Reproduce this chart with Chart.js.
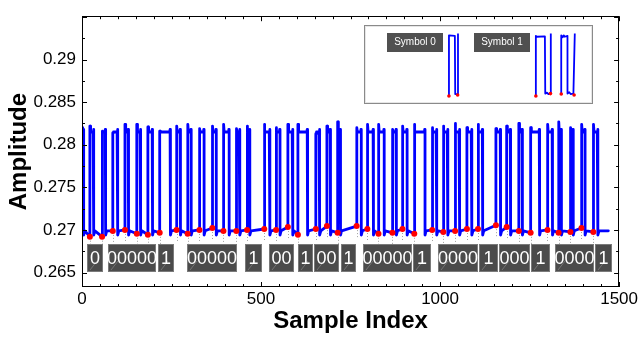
<!DOCTYPE html>
<html><head><meta charset="utf-8">
<script src="https://cdn.jsdelivr.net/npm/chart.js@4.4.0/dist/chart.umd.min.js"></script>
<style>
html,body{margin:0;padding:0;background:#fff;}
#wrap{position:relative;width:640px;height:339px;overflow:hidden;}
#main{position:absolute;left:0;top:0;}
#inset{position:absolute;left:364px;top:25px;width:227px;height:77px;border:1px solid #8a8a8a;background:#fff;box-shadow:inset 0 0 0 1px #e6e6e6;}
#insetCanvas{position:absolute;left:0;top:0;}
</style></head>
<body>
<div id="wrap">
<canvas id="main" width="640" height="339"></canvas>
<div id="inset"><canvas id="insetCanvas" width="227" height="77"></canvas></div>
</div>
<script>
// ---------- data ----------
const xTickLabels = [0, 500, 1000, 1500];
const yTickLabels = [0.265, 0.27, 0.275, 0.28, 0.285, 0.29];

// rising edges (sample index) of pulses 2..42 (pulse 1 starts high at 0)
const riseIdx = [22, 56, 86, 120, 153, 184, 217, 264, 295, 328, 364, 395, 431, 461, 509, 542, 575, 603, 653, 684, 714, 767, 797, 828, 867, 895, 928, 978, 1009, 1042, 1075, 1106, 1156, 1186, 1220, 1253, 1300, 1331, 1364, 1395, 1428];
// falling edges of pulses 1..42
const fallIdx = [5, 33, 66, 100, 130, 164, 197, 247, 275, 305, 341, 375, 411, 441, 469, 525, 553, 589, 630, 664, 694, 722, 780, 814, 844, 878, 908, 958, 991, 1022, 1055, 1089, 1119, 1169, 1197, 1230, 1278, 1314, 1339, 1372, 1405, 1441];
// overshoot amplitude at the start of each pulse
const peakAmp = [0.2820, 0.2822, 0.2816, 0.2814, 0.2824, 0.2824, 0.2821, 0.2816, 0.2822, 0.2824, 0.2819, 0.2822, 0.2824, 0.2819, 0.2822, 0.2824, 0.2820, 0.2824, 0.2824, 0.2813, 0.2822, 0.2827, 0.2820, 0.2824, 0.2824, 0.2818, 0.2822, 0.2824, 0.2820, 0.2822, 0.2825, 0.2820, 0.2824, 0.2819, 0.2822, 0.2825, 0.2820, 0.2824, 0.2827, 0.2820, 0.2824, 0.2824];
// red markers at each rising edge
const dotAmp = [0.26921, 0.26921, 0.26989, 0.2700, 0.26955, 0.26944, 0.26966, 0.2700, 0.26955, 0.2700, 0.27023, 0.26989, 0.26989, 0.2700, 0.27011, 0.2700, 0.27034, 0.26944, 0.27011, 0.27045, 0.26966, 0.27045, 0.27011, 0.26955, 0.26966, 0.27011, 0.26955, 0.2700, 0.26977, 0.26989, 0.27011, 0.27011, 0.27056, 0.27034, 0.26989, 0.26966, 0.2700, 0.26966, 0.26977, 0.27023, 0.26977];
const highLevel = 0.2815;
const lowLevel = 0.2699;
const dipLevel = 0.2694;
const traceEnd = 1470;

// decoded symbol labels
const boxLabels = ["0", "00000", "1", "00000", "1", "00", "1", "00", "1", "00000", "1", "0000", "1", "000", "1", "0000", "1"];
const boxStart  = [14, 72, 211, 292, 456, 522, 603, 647, 722, 786, 925, 994, 1108, 1164, 1253, 1322, 1433];
const boxEnd    = [58, 208, 258, 433, 503, 592, 644, 719, 764, 922, 975, 1106, 1161, 1250, 1306, 1431, 1481];

// inset traces
const sym0X = [230, 230, 247, 248, 255, 256];
const sym0Y = [0.2693, 0.2822, 0.2821, 0.2696, 0.2696, 0.2826];
const sym1aX = [480, 480, 483, 506, 507, 512, 516, 522, 523];
const sym1aY = [0.2693, 0.2821, 0.2819, 0.2820, 0.2697, 0.2699, 0.2696, 0.2698, 0.2826];
const sym1bX = [553, 553, 557, 560, 563, 571, 571, 576, 580, 588, 592];
const sym1bY = [0.2694, 0.2822, 0.2818, 0.2822, 0.2819, 0.2821, 0.2697, 0.2700, 0.2696, 0.2697, 0.2826];
const insetDotX = [230, 255, 480, 522, 553, 590];
const insetDotY = [0.2692, 0.2694, 0.2692, 0.2697, 0.2696, 0.2694];
const insetLabels = ["Symbol 0", "Symbol 1"];
const insetLabelStart = [53, 303];
const insetLabelEnd = [214, 464];

// ---------- build ----------
const FONT = "'Liberation Sans', Arial, Helvetica, sans-serif";

const tracePts = [];
for (let k = 0; k < fallIdx.length; k++) {
  if (k === 0) {
    tracePts.push({x: 0, y: peakAmp[0]});
    tracePts.push({x: 2, y: highLevel});
  } else {
    const r = riseIdx[k - 1];
    tracePts.push({x: r, y: dotAmp[k - 1]});
    tracePts.push({x: r, y: peakAmp[k]});
    tracePts.push({x: r + 1, y: peakAmp[k]});
    tracePts.push({x: r + 2, y: highLevel});
  }
  const f = fallIdx[k];
  tracePts.push({x: f - 2, y: highLevel});
  tracePts.push({x: f - 1, y: highLevel + 0.0003});
  tracePts.push({x: f, y: highLevel + 0.0003});
  tracePts.push({x: f, y: dipLevel});
  tracePts.push({x: f + 3, y: lowLevel});
}
tracePts.push({x: traceEnd, y: lowLevel});

const dotPts = riseIdx.map((x, i) => ({x: x, y: dotAmp[i]}));

const frameTicks = {
  id: 'frameTicks',
  afterDraw(chart) {
    const {ctx, chartArea: a, scales: {x, y}} = chart;
    ctx.save();
    ctx.strokeStyle = '#000';
    ctx.lineWidth = 1;
    ctx.beginPath();
    for (let v = 0; v <= 1500 + 1e-9; v += 50) {
      const px = Math.round(x.getPixelForValue(v)) + 0.5;
      const len = (v % 500 === 0) ? 5 : 3;
      ctx.moveTo(px, a.bottom); ctx.lineTo(px, a.bottom - len);
      ctx.moveTo(px, a.top); ctx.lineTo(px, a.top + len);
    }
    const st = 0.0025;
    for (let i = Math.ceil(y.min / st - 1e-9); i * st <= y.max + 1e-12; i++) {
      const v = i * st;
      const py = Math.round(y.getPixelForValue(v)) + 0.5;
      const major = Math.abs(v / 0.005 - Math.round(v / 0.005)) < 1e-6;
      const len = major ? 5 : 3;
      ctx.moveTo(a.left, py); ctx.lineTo(a.left + len, py);
      ctx.moveTo(a.right, py); ctx.lineTo(a.right - len, py);
    }
    ctx.stroke();
    ctx.strokeRect(Math.round(a.left) + 0.5, Math.round(a.top) + 0.5, Math.round(a.right - a.left) - 1, Math.round(a.bottom - a.top) - 1);
    ctx.restore();
  }
};

const symbolBoxes = {
  id: 'symbolBoxes',
  afterDatasetsDraw(chart, args, opts) {
    const {ctx, scales: {x, y}} = chart;
    ctx.save();
    ctx.strokeStyle = '#a0a0a0';
    ctx.lineWidth = 1;
    ctx.setLineDash([1, 2]);
    ctx.beginPath();
    dotPts.forEach(p => {
      const px = Math.round(x.getPixelForValue(p.x)) + 0.5;
      const py = y.getPixelForValue(p.y);
      ctx.moveTo(px, py + 4); ctx.lineTo(px, py + 13);
    });
    ctx.stroke();
    ctx.setLineDash([]);
    const yT = Math.round(y.getPixelForValue(opts.top));
    const yB = Math.round(y.getPixelForValue(opts.bottom));
    boxLabels.forEach((lab, i) => {
      const x0 = Math.round(x.getPixelForValue(boxStart[i]));
      const x1 = Math.round(x.getPixelForValue(boxEnd[i]));
      ctx.fillStyle = '#4b4b4b';
      ctx.fillRect(x0, yT, x1 - x0, yB - yT);
      ctx.strokeStyle = '#7a7a7a';
      ctx.lineWidth = 1;
      ctx.strokeRect(x0 + 0.5, yT + 0.5, x1 - x0 - 1, yB - yT - 1);
      ctx.strokeStyle = 'rgba(255,255,255,0.22)';
      ctx.beginPath();
      ctx.moveTo(x0 + 3, yB - 2); ctx.lineTo(x0 + 10, yB - 11);
      ctx.stroke();
      ctx.fillStyle = '#ffffff';
      ctx.font = '18px ' + FONT;
      ctx.textAlign = 'center';
      ctx.textBaseline = 'middle';
      ctx.fillText(lab, (x0 + x1) / 2, (yT + yB) / 2 + 1);
    });
    ctx.restore();
  }
};

new Chart(document.getElementById('main'), {
  type: 'line',
  data: {
    datasets: [
      {type: 'scatter', data: dotPts, pointRadius: 3, pointBackgroundColor: '#ff0000', pointBorderWidth: 0, showLine: false, order: 0},
      {data: tracePts, borderColor: '#0000ff', borderWidth: 2.8, borderJoinStyle: 'round', borderCapStyle: 'round', pointRadius: 0, tension: 0, fill: false, order: 1}
    ]
  },
  options: {
    responsive: false, animation: false, devicePixelRatio: 1,
    layout: {padding: {left: 0, right: 19, top: 7, bottom: 0}},
    plugins: {legend: {display: false}, tooltip: {enabled: false},
      symbolBoxes: {top: 0.26830, bottom: 0.26503}},
    scales: {
      x: {
        type: 'linear', min: 0, max: 1500,
        afterBuildTicks: s => { s.ticks = xTickLabels.map(v => ({value: v})); },
        afterFit: s => { s.height = 52; },
        ticks: {font: {family: FONT, size: 17}, color: '#000', padding: 2, maxRotation: 0, autoSkip: false, callback: v => String(v)},
        grid: {display: false, drawTicks: false},
        border: {display: false},
        title: {display: true, text: 'Sample Index', color: '#000', font: {family: FONT, size: 24, weight: 'bold'}, padding: {top: 0, bottom: 3}}
      },
      y: {
        type: 'linear', min: 0.2633, max: 0.2951,
        afterBuildTicks: s => { s.ticks = yTickLabels.map(v => ({value: v})); },
        afterFit: s => { s.width = 82; },
        ticks: {font: {family: FONT, size: 17}, color: '#000', padding: 6, autoSkip: false, callback: v => String(+v.toFixed(4))},
        grid: {display: false, drawTicks: false},
        border: {display: false},
        title: {display: true, text: 'Amplitude', color: '#000', font: {family: FONT, size: 24, weight: 'bold'}, padding: {top: 5, bottom: 0}}
      }
    }
  },
  plugins: [frameTicks, symbolBoxes]
});

// ---------- inset ----------
const insetLabelsPlugin = {
  id: 'insetLabels',
  afterDraw(chart, args, opts) {
    const {ctx, scales: {x, y}} = chart;
    ctx.save();
    const yT = Math.round(y.getPixelForValue(opts.top));
    const yB = Math.round(y.getPixelForValue(opts.bottom));
    insetLabels.forEach((lab, i) => {
      const x0 = Math.round(x.getPixelForValue(insetLabelStart[i]));
      const x1 = Math.round(x.getPixelForValue(insetLabelEnd[i]));
      ctx.fillStyle = '#505050';
      ctx.fillRect(x0, yT, x1 - x0, yB - yT);
      ctx.fillStyle = '#fff';
      ctx.font = '10px ' + FONT;
      ctx.textAlign = 'center';
      ctx.textBaseline = 'middle';
      ctx.fillText(lab, (x0 + x1) / 2, (yT + yB) / 2);
    });
    ctx.restore();
  }
};
const zip = (xs, ys) => xs.map((v, i) => ({x: v, y: ys[i]}));
new Chart(document.getElementById('insetCanvas'), {
  type: 'line',
  data: {
    datasets: [
      {type: 'scatter', data: zip(insetDotX, insetDotY), pointRadius: 1.8, pointBackgroundColor: '#ff0000', pointBorderWidth: 0, showLine: false, order: 0},
      {data: zip(sym0X, sym0Y), borderColor: '#0000ff', borderWidth: 1.8, borderJoinStyle: 'round', pointRadius: 0, tension: 0, order: 1},
      {data: zip(sym1aX, sym1aY), borderColor: '#0000ff', borderWidth: 1.8, borderJoinStyle: 'round', pointRadius: 0, tension: 0, order: 1},
      {data: zip(sym1bX, sym1bY), borderColor: '#0000ff', borderWidth: 1.8, borderJoinStyle: 'round', pointRadius: 0, tension: 0, order: 1}
    ]
  },
  options: {
    responsive: false, animation: false, devicePixelRatio: 1,
    layout: {padding: 0},
    plugins: {legend: {display: false}, tooltip: {enabled: false},
      insetLabels: {top: 0.28278, bottom: 0.27855}},
    scales: {
      x: {type: 'linear', min: 0, max: 630, display: false},
      y: {type: 'linear', min: 0.26854, max: 0.28335, display: false}
    }
  },
  plugins: [insetLabelsPlugin]
});
</script>
</body></html>
